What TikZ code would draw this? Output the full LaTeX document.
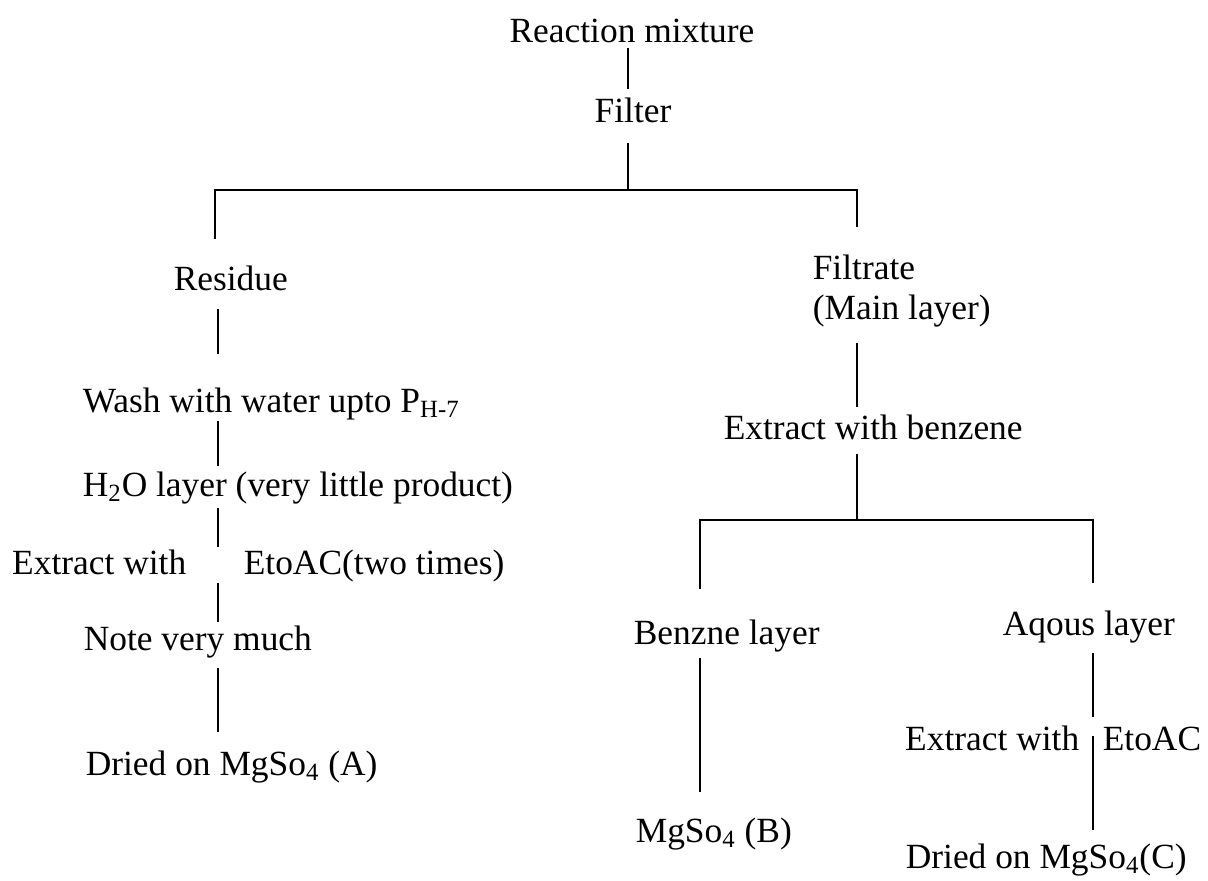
\documentclass[tikz,border=0pt]{standalone}
\usepackage{fontspec}
\setmainfont{Liberation Serif}
\usetikzlibrary{calc}

\begin{document}
\begin{tikzpicture}[x=0.5pt,y=-0.5pt,line width=0.8pt,
  every node/.style={font=\fontsize{17.7}{20}\selectfont,inner sep=0pt,text height=12.5pt,text depth=4pt,anchor=base west},
  lgap/.style 2 args={shorten <=#1,shorten >=#2}]

\useasboundingbox (0,0) rectangle (1208,880);

\node[anchor=base] (mix) at (632,42) {Reaction mixture};
\node[anchor=base] (filter) at (633,122) {Filter};
\node (residue) at (173,290) {Residue};
\node (filtrate) at (812,279) {Filtrate};
\node (mainlayer) at (812,319) {(Main layer)};
\node (wash) at (82,412) {Wash with water upto P\textsubscript{H-7}};
\node (water) at (82,496) {H\textsubscript{2}O layer (very little product)};
\node[anchor=base east] (extA) at (187,574) {Extract with};
\node (etoacA) at (243,574) {EtoAC(two times)};
\node (note) at (83,650) {Note very much};
\node (driedA) at (85,775) {Dried on MgSo\textsubscript{4} (A)};
\node (benzene) at (723,439) {Extract with benzene};
\node (benzlayer) at (633,644) {Benzne layer};
\node (mgB) at (635,842) {MgSo\textsubscript{4} (B)};
\node (aqous) at (1002,635) {Aqous layer};
\node[anchor=base east] (extC) at (1080,750) {Extract with};
\node (etoacC) at (1102,750) {EtoAC};
\node (driedC) at (905,868) {Dried on MgSo\textsubscript{4}(C)};

\coordinate (fork) at (628,190);
\coordinate (forkL) at (215,190);
\coordinate (forkR) at (857,190);
\coordinate (colA) at (218,0);
\coordinate (colB) at (857,0);
\coordinate (fork2) at (857,520);
\coordinate (fork2L) at (700,520);
\coordinate (fork2R) at (1093,520);

% main stem
\draw[lgap={-1.5pt}{3.5pt}] (mix.south -| fork) -- (filter.north -| fork);
\draw[lgap={6pt}{0pt}] (filter.south -| fork) -- (fork);
\draw[lgap={12.5pt}{13pt}] (residue.north -| forkL) -- (forkL) -- (forkR) -- (filtrate.north -| forkR);

% residue side
\draw[lgap={5pt}{16pt}] (residue.south -| colA) -- (wash.north -| colA);
\draw[lgap={0pt}{2pt}] (wash.south -| colA) -- (water.north -| colA);
\draw[lgap={1.5pt}{0.5pt}] (water.south -| colA) -- (extA.north -| colA);
\draw[lgap={0pt}{1pt}] (extA.south -| colA) -- (note.north -| colA);
\draw[lgap={4.5pt}{8.5pt}] (note.south -| colA) -- (driedA.north -| colA);

% filtrate side
\draw[lgap={7.5pt}{3pt}] (mainlayer.south -| colB) -- (benzene.north -| colB);
\draw[lgap={3pt}{0pt}] (benzene.south -| colB) -- (fork2);
\draw[lgap={14.5pt}{13pt}] (benzlayer.north -| fork2L) -- (fork2L) -- (fork2R) -- (aqous.north -| fork2R);
\draw[lgap={2.5pt}{12pt}] (benzlayer.south -| fork2L) -- (mgB.north -| fork2L);
\draw[lgap={4.5pt}{3.5pt}] (aqous.south -| fork2R) -- (extC.north -| fork2R);
\draw[lgap={-11.5pt}{6pt}] (extC.south -| fork2R) -- (driedC.north -| fork2R);

\end{tikzpicture}
\end{document}
